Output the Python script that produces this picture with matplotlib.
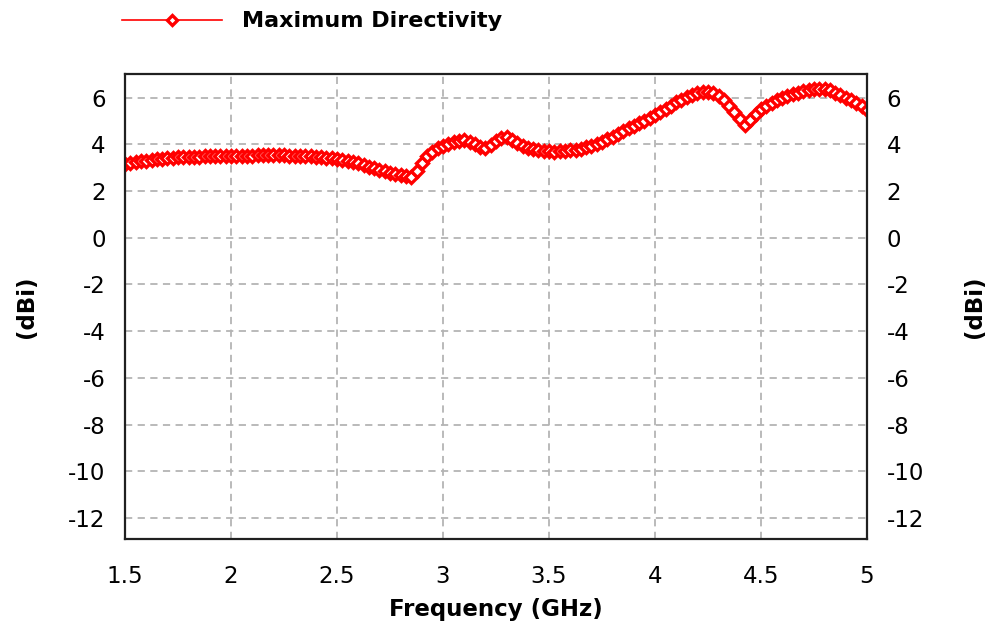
import numpy as np
import matplotlib
matplotlib.use('Agg')
from matplotlib import pyplot as plt

# frequency grid (GHz) and directivity (dBi)
freq = np.round(np.arange(1.5, 5.0001, 0.025), 3)
directivity = [
    3.15, 3.20, 3.25, 3.28, 3.30, 3.33, 3.36, 3.38, 3.40, 3.42,
    3.44, 3.45, 3.46, 3.47, 3.47, 3.48, 3.48, 3.48, 3.48, 3.49,
    3.50, 3.50, 3.51, 3.52, 3.52, 3.53, 3.54, 3.55, 3.56, 3.55,
    3.53, 3.51, 3.50, 3.49, 3.49, 3.48, 3.47, 3.45, 3.43, 3.40,
    3.37, 3.33, 3.29, 3.24, 3.18, 3.11, 3.04, 2.97, 2.90, 2.84,
    2.78, 2.72, 2.67, 2.63, 2.60, 2.85, 3.18, 3.48, 3.68, 3.83,
    3.93, 4.02, 4.09, 4.15, 4.18, 4.12, 4.02, 3.88, 3.83, 3.98,
    4.15, 4.28, 4.30, 4.20, 4.06, 3.95, 3.86, 3.79, 3.74, 3.71,
    3.70, 3.69, 3.70, 3.72, 3.74, 3.77, 3.81, 3.87, 3.94, 4.03,
    4.12, 4.22, 4.33, 4.45, 4.56, 4.68, 4.80, 4.90, 5.02, 5.14,
    5.27, 5.40, 5.53, 5.66, 5.80, 5.92, 6.03, 6.12, 6.20, 6.24,
    6.24, 6.20, 6.08, 5.88, 5.65, 5.38, 5.10, 4.85, 5.05, 5.32,
    5.52, 5.66, 5.78, 5.88, 5.97, 6.06, 6.14, 6.21, 6.27, 6.32,
    6.36, 6.38, 6.37, 6.32, 6.22, 6.10, 5.98, 5.88, 5.77, 5.63,
    5.47,
]
xticks = [1.5, 2, 2.5, 3, 3.5, 4, 4.5, 5]
xtick_labels = ['1.5', '2', '2.5', '3', '3.5', '4', '4.5', '5']
yticks = [6, 4, 2, 0, -2, -4, -6, -8, -10, -12]

plt.rcParams['font.family'] = ['DejaVu Sans']
plt.rcParams['axes.unicode_minus'] = False

fig = plt.figure(figsize=(9.86, 6.27), dpi=100)
ax = fig.add_axes([0.1268, 0.1404, 0.7525, 0.7411])

line, = ax.plot(freq, directivity, color='red', lw=1.2, marker='D',
                markersize=6.5, markerfacecolor='white',
                markeredgecolor='red', markeredgewidth=2.4,
                label='Maximum Directivity')

ax.set_xlim(1.5, 5)
ax.set_ylim(-12.9, 7.0)
ax.set_xticks(xticks)
ax.set_xticklabels(xtick_labels)
ax.set_yticks(yticks)
ax.grid(True, color='#b4b4b4', linestyle=(0, (4, 3)), linewidth=1.3)
for s in ax.spines.values():
    s.set_linewidth(1.6)
    s.set_color('#202020')

ax.tick_params(axis='x', length=0, pad=19, labelsize=16.5)
ax.tick_params(axis='y', length=0, pad=14, labelsize=16.5)
ax.set_xlabel('Frequency (GHz)', fontsize=16.5, fontweight='bold', labelpad=7)
ax.set_ylabel('(dBi)', fontsize=16.5, fontweight='bold', labelpad=22)

ax2 = ax.twinx()
ax2.set_ylim(ax.get_ylim())
ax2.set_yticks(yticks)
ax2.tick_params(axis='y', length=0, pad=14, labelsize=16.5)
ax2.set_ylabel('(dBi)', fontsize=16.5, fontweight='bold', rotation=90, labelpad=28)
for s in ax2.spines.values():
    s.set_visible(False)

fig.legend(handles=[line], loc='center left', bbox_to_anchor=(0.124, 0.966),
           frameon=False, prop={'weight': 'bold', 'size': 16},
           handlelength=4.5, handletextpad=0.9, borderpad=0, borderaxespad=0,
           markerscale=0.8)

fig.savefig('out.png', dpi=100)
